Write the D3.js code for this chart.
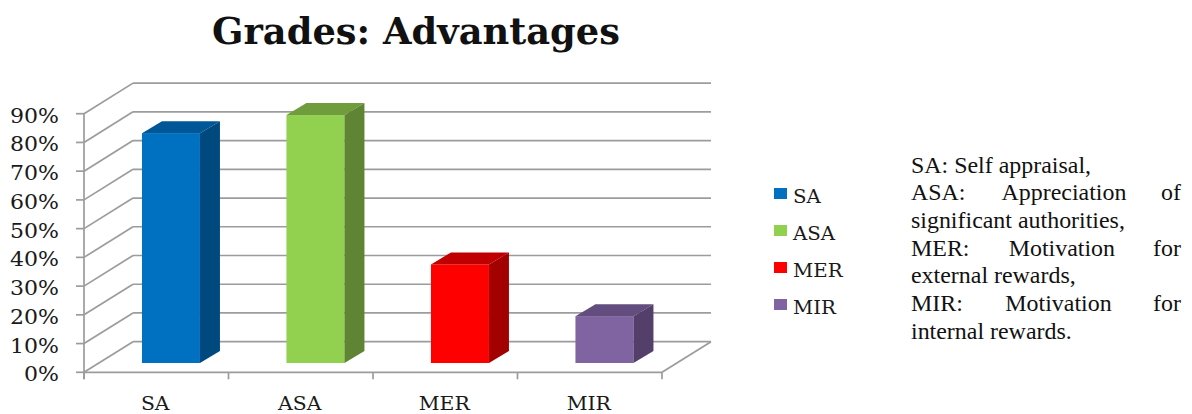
<!DOCTYPE html>
<html><head><meta charset="utf-8">
<script src="https://cdnjs.cloudflare.com/ajax/libs/d3/7.8.5/d3.min.js"></script>
<style>html,body{margin:0;padding:0;background:#fff}svg{display:block}</style>
</head><body><svg id="c" width="1192" height="414"></svg>
<script>
const categories = ["SA","ASA","MER","MIR"];
const values = [80, 86.3, 34.3, 16.3];
const frontColors = ["#0070c0","#92d050","#ff0000","#8064a2"];
const topColors = ["#005797","#6f9d3d","#c00000","#634d7e"];
const sideColors = ["#00497e","#5f8433","#a30000","#533f69"];
const yTicks = [0,10,20,30,40,50,60,70,80,90];
const notes = [
  ["SA: Self appraisal,"],
  ["ASA:","Appreciation","of"],
  ["significant authorities,"],
  ["MER:","Motivation","for"],
  ["external rewards,"],
  ["MIR:","Motivation","for"],
  ["internal rewards."]
];
const title = "Grades: Advantages";

const svg = d3.select("#c");
const y = d3.scaleLinear().domain([0,90]).range([372.3,113.7]);
const x = d3.scaleBand().domain(categories).range([84,662]);
const wallDx = 49, wallDy = -30.6;
const barW = 58, barDx = 20, barDy = -12, barShiftX = 14.7, barShiftY = -9.3;
const grid = "#9c9c9c";
const widen = (sel,k)=>sel.each(function(){
  const w=this.getComputedTextLength();
  d3.select(this).attr("textLength",w*k).attr("lengthAdjust","spacingAndGlyphs");
});

svg.append("text").attr("x",416).attr("y",44).attr("text-anchor","middle")
  .attr("font-family","DejaVu Serif").attr("font-weight","bold").attr("font-size",36.8)
  .attr("fill","#111").text(title);

// walls and floor
const g = svg.append("g").attr("fill","none").attr("stroke",grid).attr("stroke-width",1.7);
g.selectAll(".back").data(yTicks).join("line")
  .attr("x1",84+wallDx).attr("x2",662+wallDx)
  .attr("y1",d=>y(d)+wallDy).attr("y2",d=>y(d)+wallDy);
g.selectAll(".diag").data(yTicks).join("line")
  .attr("x1",84).attr("x2",84+wallDx)
  .attr("y1",d=>y(d)).attr("y2",d=>y(d)+wallDy);
g.append("line").attr("x1",662).attr("x2",662+wallDx).attr("y1",y(0)).attr("y2",y(0)+wallDy);
g.append("line").attr("x1",84).attr("x2",84).attr("y1",y(90)).attr("y2",y(0)+7);
g.append("line").attr("x1",84).attr("x2",662).attr("y1",y(0)).attr("y2",y(0));
g.selectAll(".yt").data(yTicks).join("line")
  .attr("x1",76).attr("x2",84).attr("y1",d=>y(d)).attr("y2",d=>y(d));
const xEdges = categories.map(c=>x(c)).concat([x.range()[1]]);
g.selectAll(".xt").data(xEdges).join("line")
  .attr("x1",d=>d).attr("x2",d=>d).attr("y1",y(0)).attr("y2",y(0)+7);

// bars
const bars = svg.append("g").selectAll("g").data(categories).join("g");
const L = c=>x(c)+x.bandwidth()/2-barW/2+barShiftX;
const B = y(0)+barShiftY;
const T = (c,i)=>y(values[i])+barShiftY;
bars.append("rect").attr("x",L).attr("y",T).attr("width",barW)
  .attr("height",(c,i)=>B-T(c,i)).attr("fill",(c,i)=>frontColors[i]);
bars.append("polygon").attr("fill",(c,i)=>topColors[i]).attr("points",(c,i)=>{
  const l=L(c),t=T(c,i);
  return [[l,t],[l+barDx,t+barDy],[l+barW+barDx,t+barDy],[l+barW,t]].join(" ");
});
bars.append("polygon").attr("fill",(c,i)=>sideColors[i]).attr("points",(c,i)=>{
  const r=L(c)+barW,t=T(c,i);
  return [[r,t],[r+barDx,t+barDy],[r+barDx,B+barDy],[r,B]].join(" ");
});

// axis labels
svg.append("g").selectAll("text").data(yTicks).join("text")
  .attr("x",59).attr("y",d=>y(d)+9).attr("text-anchor","end")
  .attr("font-family","DejaVu Serif").attr("font-size",19.5).attr("fill","#1a1a1a")
  .text(d=>d+"%").call(widen,1.13);
svg.append("g").selectAll("text").data(categories).join("text")
  .attr("x",c=>x(c)+x.bandwidth()/2-1).attr("y",410).attr("text-anchor","middle")
  .attr("font-family","DejaVu Serif").attr("font-size",18).attr("fill","#1a1a1a")
  .text(c=>c).call(widen,1.13);

// legend
const ly = d3.scalePoint().domain(categories).range([194,305]);
const leg = svg.append("g").selectAll("g").data(categories).join("g");
leg.append("rect").attr("x",774).attr("y",c=>ly(c)-6).attr("width",13).attr("height",11)
  .attr("fill",(c,i)=>frontColors[i]);
leg.append("text").attr("x",793).attr("y",c=>ly(c)+8.5)
  .attr("font-family","DejaVu Serif").attr("font-size",19).attr("fill","#1a1a1a")
  .text(c=>c).call(widen,1.04);

// notes
const nl = 911, nr = 1181, n0 = 172.5, nh = 27.7;
notes.forEach((words,i)=>{
  const t = svg.append("g").attr("font-family","Liberation Serif").attr("font-size",23).attr("fill","#111");
  const py = n0+i*nh;
  const k = 1.04;
  if(words.length===1){ t.append("text").attr("x",nl).attr("y",py).text(words[0]).call(widen,k); return; }
  const a = t.append("text").attr("x",nl).attr("y",py).text(words[0]).call(widen,k);
  const c = t.append("text").attr("x",nr).attr("y",py).attr("text-anchor","end").text(words[2]).call(widen,k);
  const w0 = a.node().getComputedTextLength()*k, w2 = c.node().getComputedTextLength()*k;
  t.append("text").attr("x",(nl+w0+nr-w2)/2).attr("y",py).attr("text-anchor","middle").text(words[1]).call(widen,k);
});
</script></body></html>
